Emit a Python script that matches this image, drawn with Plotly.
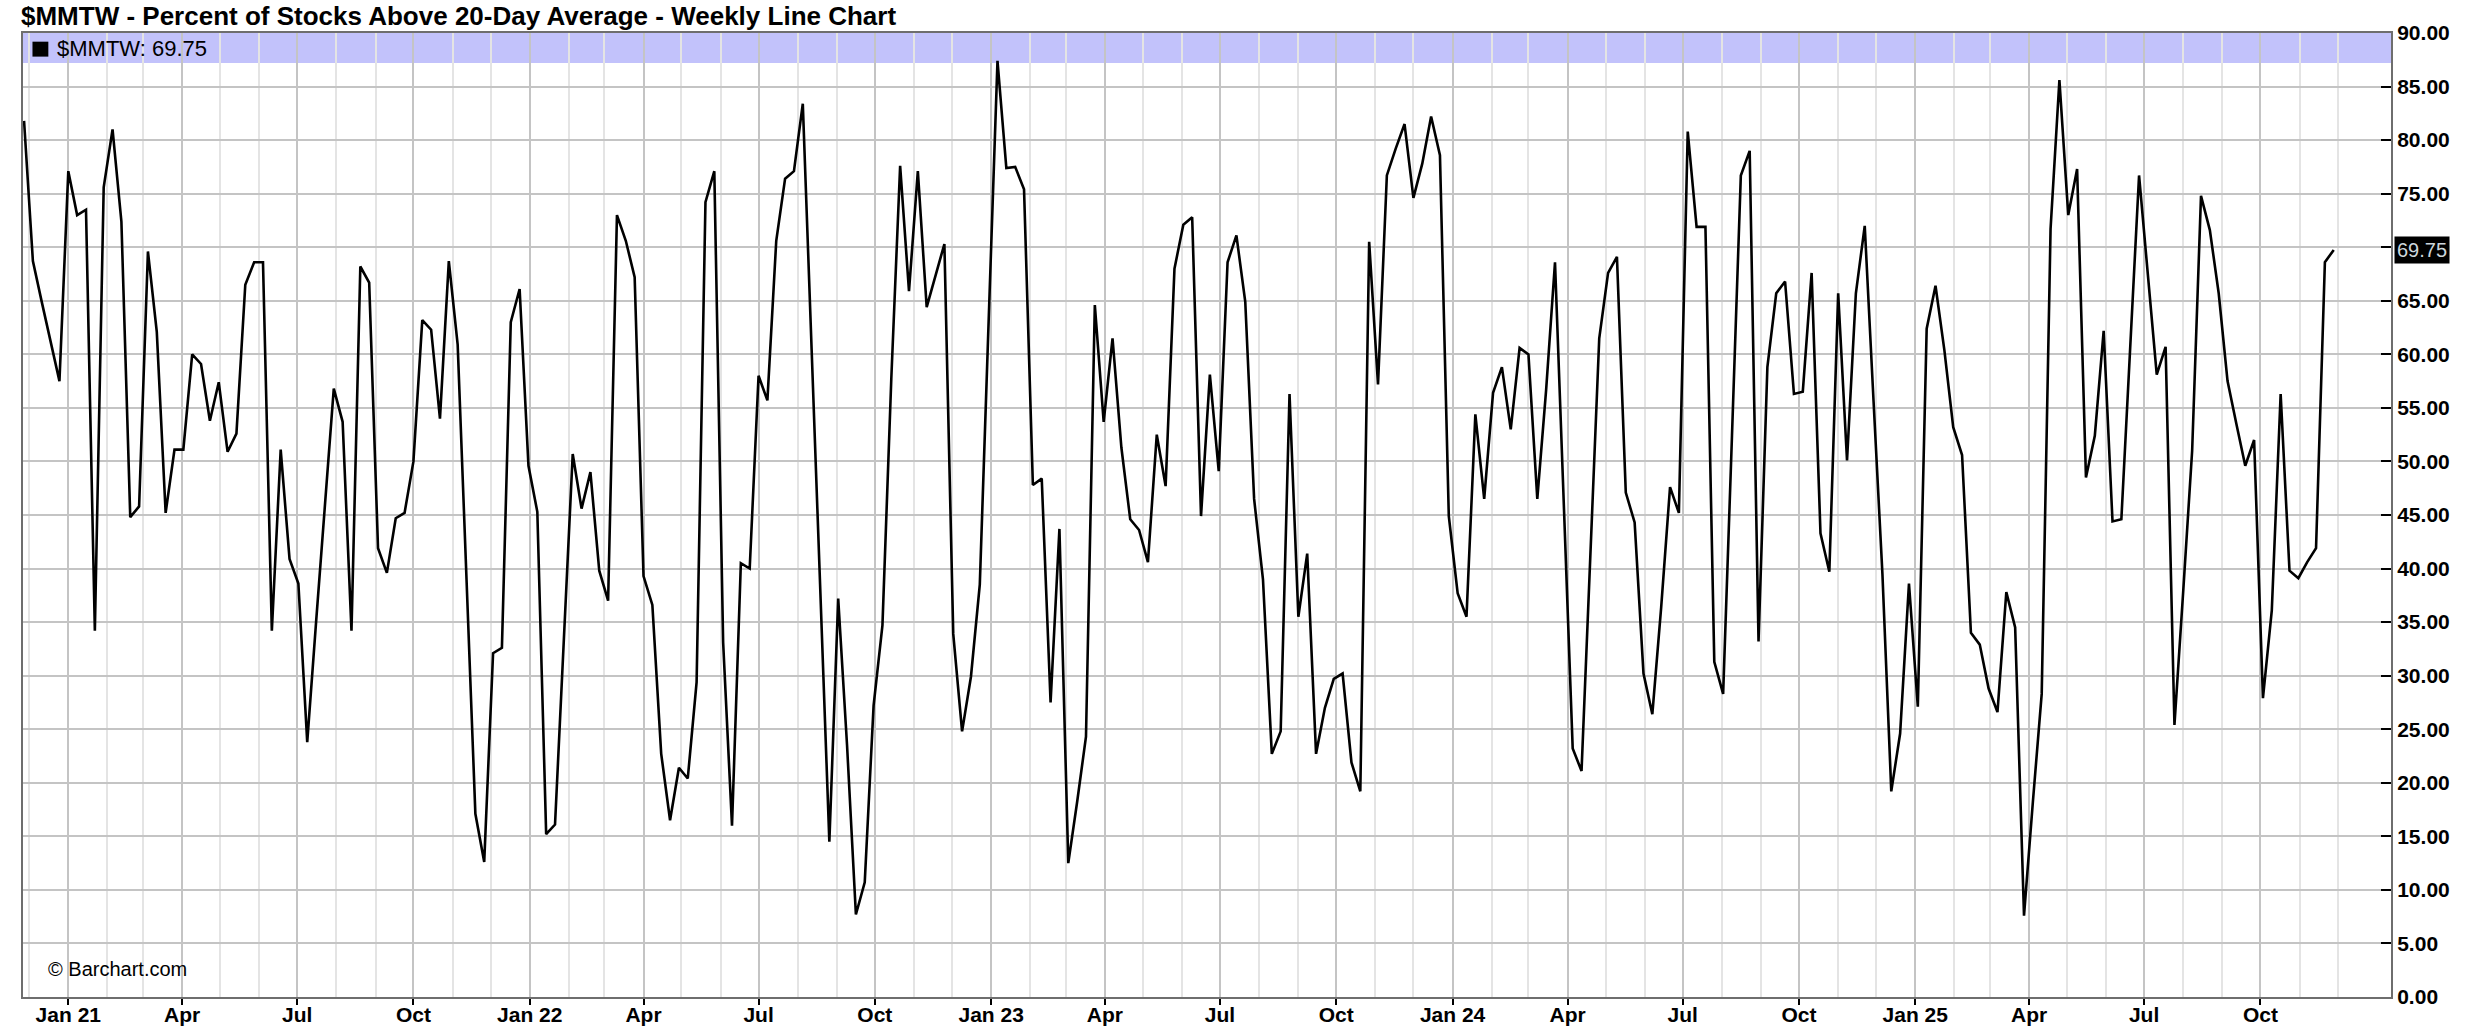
import pandas as pd
import plotly.graph_objects as go

# Weekly readings of $MMTW (percent of stocks above 20-day average)
first_week = "2020-11-27"
v2020 = [81.8, 68.7, 64.9, 61.2, 57.5]
v2021 = [77.1, 73.0, 73.5, 34.2, 75.6, 81.0, 72.4, 44.8, 45.8, 69.6,
         62.1, 45.2, 51.1, 51.1, 60.0, 59.1, 53.8, 57.4, 50.9, 52.6,
         66.5, 68.6, 68.6, 34.2, 51.1, 40.9, 38.6, 23.8, 35.0, 46.0,
         56.8, 53.7, 34.2, 68.2, 66.7, 41.9, 39.6, 44.7, 45.2, 50.0,
         63.2, 62.3, 54.0, 68.7, 60.9, 39.0, 17.1, 12.6, 32.1, 32.6,
         63.0, 66.1, 49.6]
v2022 = [45.3, 15.2, 16.1, 33.4, 50.7, 45.6, 49.0, 39.8, 37.0, 73.0,
         70.6, 67.2, 39.3, 36.6, 22.7, 16.5, 21.4, 20.4, 29.4, 74.2,
         77.1, 33.1, 16.0, 40.5, 40.0, 58.0, 55.7, 70.6, 76.4, 77.1,
         83.4, 60.4, 37.5, 14.5, 37.2, 23.5, 7.7, 10.7, 27.2, 34.7,
         57.7, 77.6, 65.9, 77.1, 64.4, 67.4, 70.3, 33.9, 24.8, 29.9,
         38.5, 63.1]
v2023 = [87.4, 77.4, 77.5, 75.4, 47.8, 48.4, 27.5, 43.7, 12.5, 18.2,
         24.3, 64.6, 53.7, 61.5, 51.3, 44.6, 43.6, 40.6, 52.5, 47.7,
         68.0, 72.1, 72.8, 44.9, 58.1, 49.1, 68.6, 71.1, 64.9, 46.5,
         39.0, 22.7, 24.8, 56.3, 35.5, 41.4, 22.7, 27.0, 29.7, 30.2,
         21.9, 19.2, 70.5, 57.2, 76.7, 79.2, 81.5, 74.6, 77.8, 82.2,
         78.6, 44.9]
v2024 = [37.7, 35.5, 54.4, 46.5, 56.4, 58.8, 53.0, 60.6, 60.0, 46.5,
         56.7, 68.6, 46.0, 23.2, 21.1, 42.0, 61.5, 67.6, 69.1, 47.1,
         44.3, 30.2, 26.4, 36.4, 47.6, 45.2, 80.8, 71.9, 71.9, 31.3,
         28.3, 52.4, 76.7, 79.0, 33.2, 58.8, 65.7, 66.8, 56.3, 56.5,
         67.6, 43.3, 39.7, 65.7, 50.1, 65.7, 72.0, 55.6, 39.5, 19.2,
         24.6, 38.6]
v2025 = [27.1, 62.4, 66.4, 60.4, 53.2, 50.6, 34.0, 32.9, 28.8, 26.6,
         37.8, 34.5, 7.6, 18.2, 28.3, 71.7, 85.6, 73.0, 77.3, 48.5,
         52.4, 62.2, 44.4, 44.6, 60.9, 76.7, 67.4, 58.1, 60.7, 25.4,
         38.0, 51.0, 74.8, 71.6, 65.7, 57.5, 53.5, 49.6, 52.0, 27.9,
         36.1, 56.3, 39.8, 39.1, 40.6, 41.9, 68.6, 69.75]

tick_dates = ["2021-01-01", "2021-04-01", "2021-07-01", "2021-10-01",
              "2022-01-01", "2022-04-01", "2022-07-01", "2022-10-01",
              "2023-01-01", "2023-04-01", "2023-07-01", "2023-10-01",
              "2024-01-01", "2024-04-01", "2024-07-01", "2024-10-01",
              "2025-01-01", "2025-04-01", "2025-07-01", "2025-10-01"]
tick_labels = ["Jan 21", "Apr", "Jul", "Oct", "Jan 22", "Apr", "Jul", "Oct",
               "Jan 23", "Apr", "Jul", "Oct", "Jan 24", "Apr", "Jul", "Oct",
               "Jan 25", "Apr", "Jul", "Oct"]
symbol = "$MMTW"
title_text = "$MMTW - Percent of Stocks Above 20-Day Average - Weekly Line Chart"

values = v2020 + v2021 + v2022 + v2023 + v2024 + v2025
dates = pd.date_range(first_week, periods=len(values), freq="7D")
last_val = values[-1]
month_lines = pd.date_range("2020-12-01", "2025-12-01", freq="MS")

FONT = "Liberation Sans, Arial, sans-serif"

fig = go.Figure()
fig.add_trace(go.Scatter(x=dates, y=values, mode="lines",
                         line=dict(color="black", width=2.6),
                         hoverinfo="x+y", showlegend=False))

# purple legend strip along the top of the plot
fig.add_shape(type="rect", xref="paper", yref="paper", x0=0, x1=1,
              y0=0.9689, y1=1.0, fillcolor="#c2c2fb", line=dict(width=0),
              layer="below")
fig.add_shape(type="rect", xref="paper", yref="paper", x0=0.0040, x1=0.0107,
              y0=0.9755, y1=0.9910, fillcolor="black", line=dict(width=0))

fig.add_annotation(xref="paper", yref="paper", x=0.0136, y=0.9835,
                   xanchor="left", yanchor="middle", showarrow=False,
                   text=f"{symbol}: {last_val:.2f}",
                   font=dict(family=FONT, size=22, color="black"))
fig.add_annotation(xref="paper", yref="paper", x=-0.0012, y=1.0342,
                   xanchor="left", yanchor="top", showarrow=False,
                   text=title_text, borderpad=0,
                   font=dict(family=FONT, size=26, color="black", weight="bold"))
fig.add_annotation(xref="paper", yref="paper", x=0.0099, y=0.0287,
                   xanchor="left", yanchor="middle", showarrow=False,
                   text="© Barchart.com",
                   font=dict(family=FONT, size=20, color="black"))
# last value marker on the price axis
fig.add_annotation(xref="paper", yref="y", x=1.0, y=last_val, xshift=3,
                   xanchor="left", yanchor="middle", showarrow=False,
                   text=f"{last_val:.2f}", bgcolor="black", borderpad=2,
                   font=dict(family=FONT, size=20, color="#cdd6dc"))

fig.update_layout(
    width=2471, height=1036,
    margin=dict(l=23, r=80, t=33, b=39, autoexpand=False),
    paper_bgcolor="white", plot_bgcolor="white",
    showlegend=False,
    xaxis=dict(
        range=["2020-11-26 04:00", "2026-01-12 07:00"],
        automargin=False,
        tickmode="array", tickvals=tick_dates, ticktext=tick_labels,
        ticks="outside", ticklen=6, tickwidth=2, tickcolor="black",
        ticklabelstandoff=-8,
        tickfont=dict(family=FONT, size=21, color="black", weight="bold"),
        showgrid=True, gridcolor="#c4c4c4", gridwidth=1.5,
        minor=dict(tickmode="array", tickvals=list(month_lines),
                   showgrid=True, gridcolor="#e4e4e4", gridwidth=1.5,
                   ticks=""),
        showline=True, linecolor="#6e6e6e", linewidth=2, mirror=True,
        zeroline=False,
    ),
    yaxis=dict(
        side="right", range=[0, 90], dtick=5, tick0=0, tickformat=".2f",
        automargin=False,
        ticks="inside", ticklen=10, tickwidth=2, tickcolor="black",
        tickfont=dict(family=FONT, size=21, color="black", weight="bold"),
        showgrid=True, gridcolor="#c4c4c4", gridwidth=1.5,
        showline=True, linecolor="#6e6e6e", linewidth=2, mirror=True,
        zeroline=False,
    ),
)

# remove the browser's default 8px body margin so the figure sits at (0, 0)
fig.write_html("out.html",
               config={"displayModeBar": False},
               post_script="document.body.style.margin='0';"
                           "document.body.style.overflow='hidden';")
